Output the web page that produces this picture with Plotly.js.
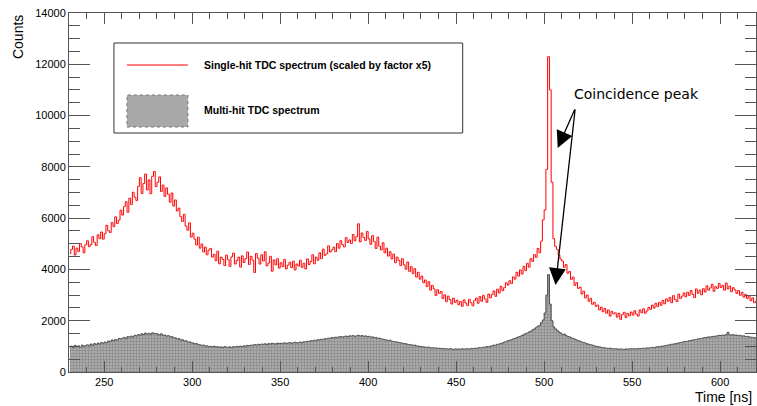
<!DOCTYPE html>
<html><head><meta charset="utf-8">
<script src="https://cdn.plot.ly/plotly-3.0.1.min.js"></script>
<style>html,body{margin:0;padding:0;background:#fff}#chart{width:757px;height:406px}</style>
</head><body><div id="chart"></div>
<script>
// Bins are 1 ns wide, first bin starts at 230 ns
const binStart = 230;
const binWidth = 1;

// Single-hit TDC spectrum (scaled by factor x5), counts per bin, 230..620 ns
const singleHit = [
4620,4780,4910,4560,4830,4700,5010,4880,4650,4960,
5120,4890,4970,5280,5060,4930,5350,5200,5460,5180,
5390,5720,5510,5440,5830,5670,6050,5790,5920,6310,
6120,6450,6640,6230,6780,6530,7010,6820,6690,7240,
7580,6960,7350,7720,7100,7490,6950,7630,7820,7230,
7400,7610,7040,7290,6850,7180,6930,6620,6980,6470,
6710,6280,6390,6060,5870,6150,5690,5530,5820,5260,
5410,5180,4950,5260,4830,4990,4680,4870,4570,4750,
4820,4480,4590,4340,4710,4220,4480,4390,4150,4560,
4380,4120,4490,4640,4210,4350,4480,4090,4530,4270,
4420,4680,4190,4510,4360,3880,4620,4440,4210,4570,
4330,4690,4140,4250,4510,3930,4370,4180,4420,4050,
4260,4110,4390,4020,4170,4280,4070,4320,3980,4210,
4130,4360,4080,4240,4020,4410,4190,4310,4570,4220,
4480,4360,4650,4420,4790,4550,4610,4920,4680,4760,
4870,4690,5010,4830,5120,4960,4880,5240,5050,5150,
5010,5360,5120,5280,5780,5070,5420,5250,5130,5480,
5190,4980,5320,5090,4820,5260,4910,4760,5040,4650,
4830,4520,4690,4410,4600,4260,4480,4350,4150,4420,
4180,4010,4290,3920,4110,3840,4030,3700,3890,3620,
3740,3480,3590,3330,3520,3190,3380,3240,2980,3210,
3060,3140,2870,3010,2740,2960,2820,2650,2880,2710,
2800,2620,2750,2560,2810,2690,2590,2830,2700,2580,
2790,2880,2680,2940,2760,2990,2850,2720,3040,2890,
3020,3160,2950,3230,3080,3340,3170,3290,3480,3390,
3560,3450,3710,3620,3890,3740,3980,3820,4120,3950,
4240,4090,4420,4310,4580,4470,4820,4650,5100,5930,
6320,7900,12300,11000,7400,5200,4900,4780,4560,4400,
4320,4080,4190,3850,3920,3610,3700,3380,3490,3260,
3310,3040,3150,2890,3000,2760,2870,2640,2720,2560,
2610,2420,2530,2350,2480,2290,2420,2180,2360,2270,
2310,2140,2290,2050,2240,2330,2120,2280,2190,2340,
2220,2390,2260,2180,2420,2310,2470,2290,2380,2520,
2440,2610,2490,2680,2550,2720,2600,2790,2660,2850,
2760,2910,2700,2980,2830,2750,3040,2870,2960,3080,
2930,3110,2990,3180,3030,2900,3240,3070,3190,3010,
3250,3120,3360,3190,3280,3420,3150,3330,3260,3450,
3300,3380,3190,3470,3240,3350,3130,3290,3200,3060,
3180,2990,3110,2920,3030,2860,2970,2780,2890,2700,
2760
];

// Multi-hit TDC spectrum, counts per bin, 230..620 ns
const multiHit = [
970,1010,950,1040,990,1020,960,1050,1000,1030,
1060,1020,1090,1040,1110,1070,1130,1090,1150,1120,
1170,1140,1210,1180,1250,1220,1270,1240,1310,1290,
1320,1350,1310,1380,1360,1400,1370,1430,1410,1460,
1440,1490,1460,1520,1480,1510,1470,1530,1490,1500,
1480,1450,1490,1430,1440,1400,1420,1370,1380,1340,
1330,1290,1300,1250,1260,1210,1220,1170,1180,1140,
1130,1100,1110,1070,1060,1040,1050,1010,1020,990,
1000,980,1010,970,990,960,980,950,990,970,
960,980,950,990,970,1000,980,1010,990,1020,
1010,1040,1020,1050,1040,1070,1050,1080,1060,1090,
1080,1100,1070,1110,1090,1120,1100,1090,1130,1110,
1120,1100,1140,1110,1130,1150,1120,1140,1160,1130,
1150,1170,1140,1180,1170,1200,1190,1220,1210,1240,
1230,1260,1250,1280,1270,1300,1290,1320,1310,1340,
1330,1360,1350,1370,1380,1360,1390,1400,1380,1410,
1400,1420,1390,1410,1430,1400,1420,1390,1410,1380,
1390,1360,1370,1340,1350,1310,1320,1290,1280,1260,
1250,1230,1240,1200,1190,1180,1170,1150,1140,1120,
1110,1100,1080,1070,1060,1040,1050,1020,1010,1000,
990,980,970,960,970,940,950,930,940,920,
930,910,920,900,910,890,910,900,880,900,
890,900,880,910,890,900,910,890,920,910,
930,920,940,950,940,970,960,990,980,1010,
1020,1050,1040,1080,1090,1120,1130,1170,1180,1220,
1240,1260,1290,1310,1340,1370,1390,1430,1450,1500,
1520,1560,1590,1640,1680,1730,1780,1820,1930,2030,
2300,3000,3800,2650,2000,1760,1680,1620,1560,1520,
1460,1480,1420,1390,1370,1330,1310,1280,1250,1220,
1200,1170,1150,1130,1100,1080,1060,1050,1020,1000,
990,980,960,950,940,930,920,930,910,900,
910,900,890,900,890,880,900,890,900,910,
900,910,900,920,910,920,930,920,940,930,
950,960,950,970,990,980,1000,1010,1020,1040,
1050,1060,1080,1090,1100,1120,1130,1150,1160,1180,
1190,1200,1220,1230,1250,1260,1270,1290,1300,1310,
1330,1340,1350,1370,1360,1390,1380,1400,1410,1430,
1420,1440,1430,1460,1550,1450,1440,1460,1430,1440,
1420,1430,1400,1410,1380,1390,1370,1360,1350,1340,
1330
];

const xRange = [230, 620.4];
const yRange = [0, 14000];
const legendLabels = ["Single-hit TDC spectrum (scaled by factor x5)", "Multi-hit TDC spectrum"];
const peakLabel = "Coincidence peak";
const xTitle = "Time [ns]";
const yTitle = "Counts";

const centers = singleHit.map((_, i) => binStart + binWidth * (i + 0.5));

// plot area in pixels
const L = 69, R = 756.5, T = 13, B = 372;
const W = 757, H = 406;
const px = x => (x - L) / (R - L);
const py = y => (B - y) / (B - T);

const traces = [
  {
    x: centers, y: multiHit, type: 'scatter', mode: 'lines',
    line: {shape: 'hvh', color: '#4a4a4a', width: 1},
    fill: 'tozeroy', fillcolor: '#a9a9a9',
    fillpattern: {shape: '.', bgcolor: '#b4b4b4', fgcolor: '#8a8a8a', size: 3, solidity: 0.5},
    hoverinfo: 'skip', showlegend: false
  },
  {
    x: centers, y: singleHit, type: 'scatter', mode: 'lines',
    line: {shape: 'hvh', color: '#ff0000', width: 1},
    hoverinfo: 'skip', showlegend: false
  }
];

const axisCommon = {
  showline: true, linecolor: '#555', linewidth: 1, mirror: 'ticks',
  ticks: 'inside', tickcolor: '#555', tickwidth: 1,
  showgrid: false, zeroline: false,
  tickfont: {family: 'Liberation Sans, Arial, sans-serif', size: 11, color: '#000'}
};

const layout = {
  width: W, height: H,
  margin: {l: L, r: W - R, t: T, b: H - B},
  paper_bgcolor: '#fff', plot_bgcolor: '#fff',
  showlegend: false,
  xaxis: Object.assign({}, axisCommon, {
    range: xRange, tick0: 0, dtick: 50, ticklen: 11,
    minor: {ticks: 'inside', ticklen: 5.5, dtick: 10, tickcolor: '#555', showgrid: false}
  }),
  yaxis: Object.assign({}, axisCommon, {
    range: yRange, tick0: 0, dtick: 2000, ticklen: 21, tickformat: 'd',
    minor: {ticks: 'inside', ticklen: 11, dtick: 500, tickcolor: '#555', showgrid: false}
  }),
  shapes: [
    {type: 'rect', xref: 'paper', yref: 'paper', x0: px(114), x1: px(463), y0: py(133), y1: py(43),
     line: {color: '#333', width: 1}, fillcolor: '#fff'},
    {type: 'line', xref: 'paper', yref: 'paper', x0: px(127), x1: px(188), y0: py(65), y1: py(65),
     line: {color: '#ff0000', width: 1}},
    {type: 'rect', xref: 'paper', yref: 'paper', x0: px(127), x1: px(188), y0: py(127), y1: py(95),
     line: {color: '#777', width: 1, dash: 'dot'}, fillcolor: '#a9a9a9'}
  ],
  annotations: [
    {xref: 'paper', yref: 'paper', x: px(202), y: py(65), xanchor: 'left', yanchor: 'middle', showarrow: false,
     text: '<b>' + legendLabels[0] + '</b>', font: {family: 'Liberation Sans, Arial, sans-serif', size: 10.5, color: '#000'}},
    {xref: 'paper', yref: 'paper', x: px(202), y: py(110), xanchor: 'left', yanchor: 'middle', showarrow: false,
     text: '<b>' + legendLabels[1] + '</b>', font: {family: 'Liberation Sans, Arial, sans-serif', size: 10.5, color: '#000'}},
    {xref: 'paper', yref: 'paper', x: px(572), y: py(94), xanchor: 'left', yanchor: 'middle', showarrow: false,
     text: peakLabel, font: {family: 'DejaVu Sans, sans-serif', size: 14, color: '#000'}},
    {xref: 'x', yref: 'y', x: 507.7, y: 8735, ax: 17.7, ay: -40, axref: 'pixel', ayref: 'pixel',
     text: '', showarrow: true, arrowhead: 2, arrowsize: 2.6, arrowwidth: 1.3, arrowcolor: '#000', standoff: 0},
    {xref: 'x', yref: 'y', x: 506.5, y: 3393, ax: 19.7, ay: -177, axref: 'pixel', ayref: 'pixel',
     text: '', showarrow: true, arrowhead: 2, arrowsize: 2.6, arrowwidth: 1.3, arrowcolor: '#000', standoff: 0},
    {xref: 'paper', yref: 'paper', x: px(18), y: py(13), xanchor: 'center', yanchor: 'top', showarrow: false,
     textangle: -90, text: yTitle, font: {family: 'Liberation Sans, Arial, sans-serif', size: 14, color: '#000'}},
    {xref: 'paper', yref: 'paper', x: px(754), y: py(397), xanchor: 'right', yanchor: 'middle', showarrow: false,
     text: xTitle, font: {family: 'Liberation Sans, Arial, sans-serif', size: 14, color: '#000'}}
  ]
};

Plotly.newPlot('chart', traces, layout, {displayModeBar: false, staticPlot: true});
</script>
</body></html>
